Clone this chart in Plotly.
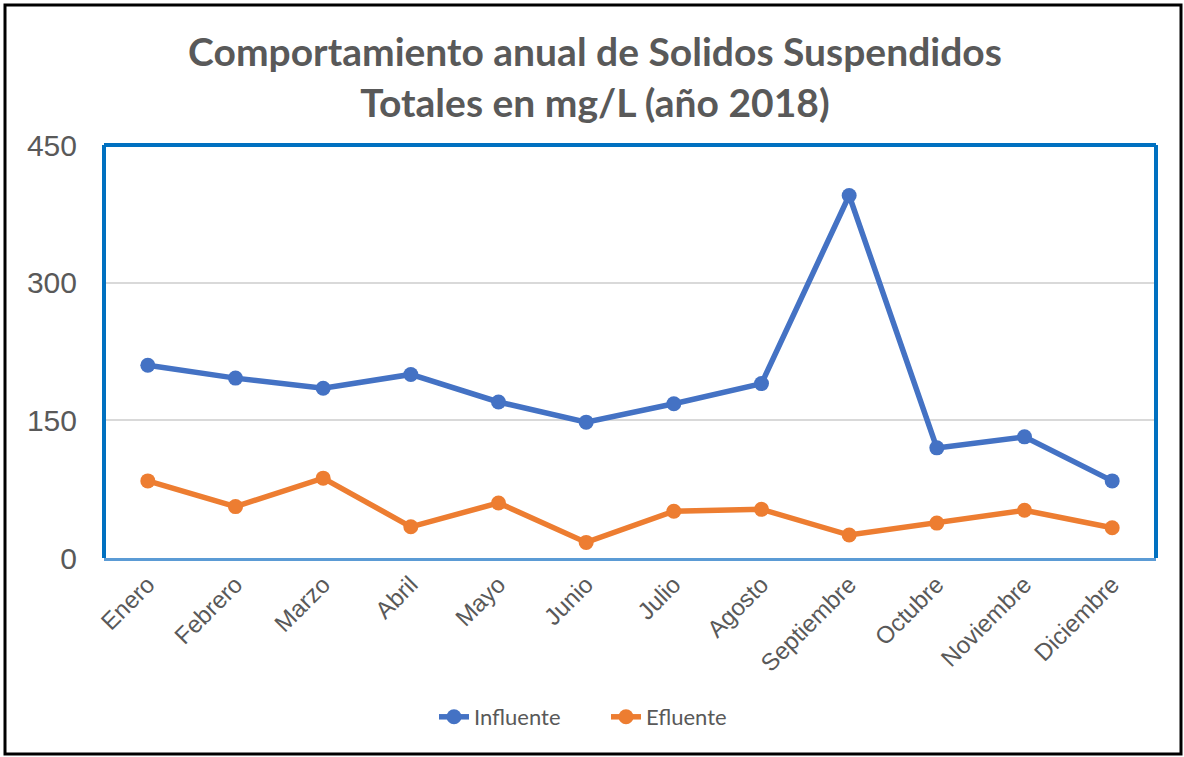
import plotly.graph_objects as go

# Data
meses = ['Enero', 'Febrero', 'Marzo', 'Abril', 'Mayo', 'Junio', 'Julio',
         'Agosto', 'Septiembre', 'Octubre', 'Noviembre', 'Diciembre']
influente = [210, 196, 185, 200, 170, 148, 168, 190, 395, 120, 132, 84]
efluente = [84, 56, 87, 34, 60, 17, 51, 53, 25, 38, 52, 33]

W, H = 1184, 757
L, R, T, B = 104, 28, 145, 199
pw, ph = W - L - R, H - T - B


def px(x):
    return (x - L) / pw


def py(y):
    return (H - B - y) / ph


fig = go.Figure()
fig.add_trace(go.Scatter(x=meses, y=influente, mode='lines+markers', name='Influente',
                         line=dict(color='#4472C4', width=5.5),
                         marker=dict(size=15, color='#4472C4')))
fig.add_trace(go.Scatter(x=meses, y=efluente, mode='lines+markers', name='Efluente',
                         line=dict(color='#ED7D31', width=5.5),
                         marker=dict(size=15, color='#ED7D31')))

shapes = [
    # outer frame
    dict(type='rect', xref='paper', yref='paper', x0=px(5), x1=px(1181), y0=py(754), y1=py(5),
         line=dict(color='black', width=3), layer='above'),
    # plot frame (left, top, right)
    dict(type='line', xref='paper', yref='paper', x0=0, x1=0, y0=0, y1=1,
         line=dict(color='#0070C0', width=4)),
    dict(type='line', xref='paper', yref='paper', x0=0, x1=1, y0=1, y1=1,
         line=dict(color='#0070C0', width=4)),
    dict(type='line', xref='paper', yref='paper', x0=1, x1=1, y0=0, y1=1,
         line=dict(color='#0070C0', width=4)),
]

fig.update_layout(
    width=W, height=H,
    margin=dict(l=L, r=R, t=T, b=B),
    paper_bgcolor='white', plot_bgcolor='white',
    title=dict(text='<b>Comportamiento anual de Solidos Suspendidos<br>Totales en mg/L (año 2018)</b>',
               x=595 / W, xref='container', xanchor='center', y=1 - 66 / H, yanchor='middle',
               font=dict(family='Lato', size=39, color='#595959')),
    font=dict(family='Liberation Sans', color='#595959'),
    xaxis=dict(tickangle=-45, tickfont=dict(size=24, color='#595959'),
               showgrid=False, showline=True, linecolor='#5B9BD5', linewidth=3,
               ticks='', range=[-0.5, 11.5]),
    yaxis=dict(range=[0, 450], tickvals=[0, 150, 300, 450], tickfont=dict(size=30, color='#595959'),
               showgrid=True, gridcolor='#D9D9D9', gridwidth=1.5, zeroline=False,
               ticks='', ticklabelstandoff=26),
    legend=dict(orientation='h', x=px(606), xanchor='center', y=py(717), yanchor='middle',
                entrywidth=127, entrywidthmode='pixels',
                font=dict(family='Lato', size=22, color='#595959')),
    shapes=shapes,
    showlegend=True,
)

fig.write_html("out.html", config={'displayModeBar': False},
               post_script="document.body.style.margin='0';document.body.style.overflow='hidden';")
